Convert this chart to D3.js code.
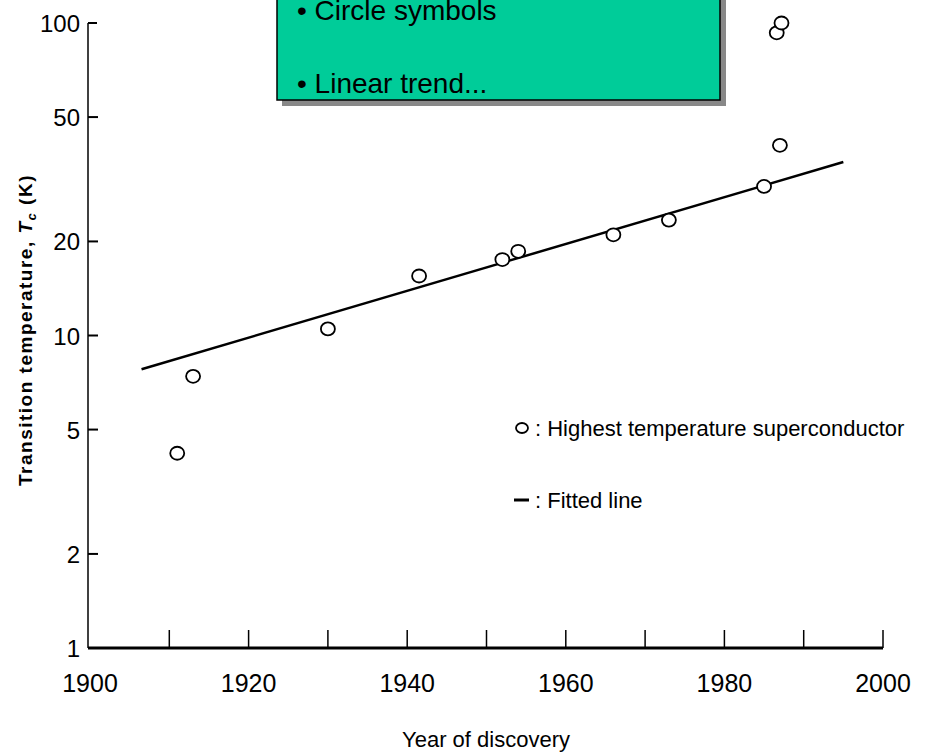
<!DOCTYPE html>
<html><head><meta charset="utf-8">
<script src="https://cdn.jsdelivr.net/npm/d3@7"></script>
<style>body{margin:0;background:#fff}</style>
</head><body><div id="chart"></div>
<script>
// data
var years = [1911, 1913, 1930, 1941.5, 1952, 1954, 1966, 1973, 1985, 1987, 1986.6, 1987.2];
var tc = [4.2, 7.4, 10.5, 15.5, 17.5, 18.6, 21, 23.4, 30, 40.6, 93, 100];
var fitYears = [1906.5, 1995];
var fitTc = [7.8, 35.9];
var xTicks = [1900, 1920, 1940, 1960, 1980, 2000];
var yTicks = [1, 2, 5, 10, 20, 50, 100];

var W = 925, H = 754;
var svg = d3.select("#chart").append("svg").attr("width", W).attr("height", H);
var font = "'Liberation Sans Narrow','Liberation Sans',Arial,sans-serif";

var x = d3.scaleLinear().domain([1900, 2000]).range([90, 883]);
var y = d3.scaleLog().domain([1, 100]).range([648, 23]);

// x axis: ticks upward every 10 years
svg.append("line").attr("x1", 88).attr("x2", 883).attr("y1", 648).attr("y2", 648)
  .attr("stroke", "#000").attr("stroke-width", 3);
svg.selectAll(".xt").data(d3.range(1910, 2001, 10)).enter().append("line")
  .attr("x1", d => x(d)).attr("x2", d => x(d)).attr("y1", 648).attr("y2", 630)
  .attr("stroke", "#000").attr("stroke-width", 1.5);
svg.selectAll(".xl").data(xTicks).enter().append("text")
  .attr("x", d => x(d)).attr("y", 692).attr("text-anchor", "middle")
  .style("font-family", font).style("font-size", "25px").text(d => d);
svg.append("text").attr("x", 486).attr("y", 747).attr("text-anchor", "middle")
  .style("font-family", font).style("font-size", "22px").text("Year of discovery");

// y axis
svg.append("line").attr("x1", 88).attr("x2", 88).attr("y1", 23).attr("y2", 648)
  .attr("stroke", "#000").attr("stroke-width", 1.5);
svg.selectAll(".yt").data(yTicks.slice(1)).enter().append("line")
  .attr("x1", 88).attr("x2", d => d == 100 ? 97 : 98).attr("y1", d => y(d)).attr("y2", d => y(d))
  .attr("stroke", "#000").attr("stroke-width", 2);
svg.selectAll(".yl").data(yTicks).enter().append("text")
  .attr("x", 80).attr("y", d => y(d) + 9).attr("text-anchor", "end")
  .style("font-family", font).style("font-size", "24px").text(d => d);

var yl = svg.append("text").attr("transform", "translate(32,330) rotate(-90)")
  .attr("text-anchor", "middle").style("font-family", "'Liberation Sans',Arial,sans-serif")
  .style("font-size", "19px").style("font-weight", "bold").style("letter-spacing", "1.5px");
yl.append("tspan").text("Transition temperature, ");
yl.append("tspan").style("font-style", "italic").text("T");
yl.append("tspan").style("font-style", "italic").style("font-size", "13px").attr("dy", 4).text("c");
yl.append("tspan").attr("dy", -4).text(" (K)");

// fitted line
svg.append("path").datum(d3.zip(fitYears, fitTc))
  .attr("fill", "none").attr("stroke", "#000").attr("stroke-width", 2.5)
  .attr("d", d3.line().x(d => x(d[0])).y(d => y(d[1])));

// points
svg.selectAll(".pt").data(d3.zip(years, tc)).enter().append("ellipse")
  .attr("cx", d => x(d[0])).attr("cy", d => y(d[1])).attr("rx", 7).attr("ry", 6.5)
  .attr("fill", "#fff").attr("stroke", "#000").attr("stroke-width", 1.8);

// legend
svg.append("ellipse").attr("cx", 522).attr("cy", 428).attr("rx", 6).attr("ry", 5)
  .attr("fill", "none").attr("stroke", "#000").attr("stroke-width", 1.8);
svg.append("text").attr("x", 535).attr("y", 436).style("font-family", font)
  .style("font-size", "22px").text(": Highest temperature superconductor");
svg.append("line").attr("x1", 514).attr("x2", 529).attr("y1", 500).attr("y2", 500)
  .attr("stroke", "#000").attr("stroke-width", 3);
svg.append("text").attr("x", 535).attr("y", 508).style("font-family", font)
  .style("font-size", "22px").text(": Fitted line");

// annotation box
svg.append("rect").attr("x", 282).attr("y", -10).attr("width", 444).attr("height", 116).attr("fill", "#888");
svg.append("rect").attr("x", 277).attr("y", -10).attr("width", 443).attr("height", 110)
  .attr("fill", "#00CC99").attr("stroke", "#000").attr("stroke-width", 1.5);
svg.append("text").attr("x", 297).attr("y", 20).style("font-family", "'Liberation Sans',Arial,sans-serif")
  .style("font-size", "28px").text("\u2022 Circle symbols");
svg.append("text").attr("x", 297).attr("y", 93).style("font-family", "'Liberation Sans',Arial,sans-serif")
  .style("font-size", "28px").text("\u2022 Linear trend...");
</script></body></html>
